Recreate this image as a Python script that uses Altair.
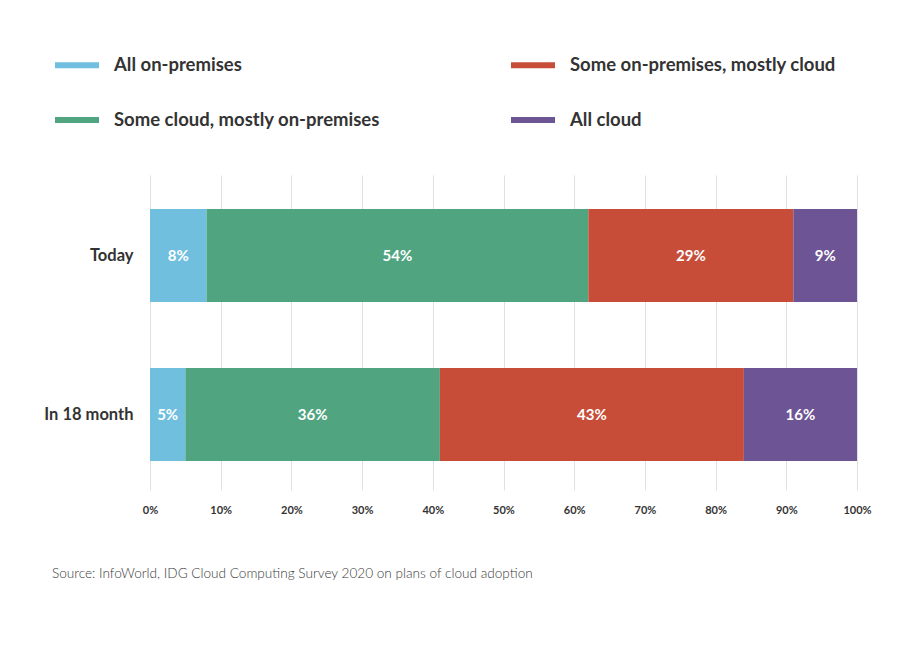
import altair as alt
import pandas as pd

periods = ["Today", "In 18 month"]
categories = [
    "All on-premises",
    "Some cloud, mostly on-premises",
    "Some on-premises, mostly cloud",
    "All cloud",
]
today_values = [8, 54, 29, 9]
month18_values = [5, 36, 43, 16]

legend_order = [
    "All on-premises",
    "Some on-premises, mostly cloud",
    "Some cloud, mostly on-premises",
    "All cloud",
]
legend_colors = ["#70BFDF", "#C74D39", "#50A580", "#6D5494"]
tick_values = [0, 10, 20, 30, 40, 50, 60, 70, 80, 90, 100]

rows = []
for period, vals in zip(periods, [today_values, month18_values]):
    for i, (cat, v) in enumerate(zip(categories, vals)):
        rows.append({"period": period, "category": cat, "value": v, "idx": i})
df = pd.DataFrame(rows)

FONT = "Lato"

base = alt.Chart(df).transform_stack(
    stack="value", groupby=["period"], as_=["v0", "v1"], sort=[alt.SortField("idx")]
).transform_calculate(
    mid="(datum.v0 + datum.v1) / 2",
    label="datum.value + '%'",
)

y_enc = alt.Y(
    "period:N",
    sort=periods,
    title=None,
    scale=alt.Scale(paddingInner=0.415, paddingOuter=0.198, align=0.54),
    axis=alt.Axis(
        ticks=False, domain=False, labelFont=FONT, labelFontSize=16.5,
        labelFontWeight="bold", labelColor="#333333", labelPadding=17,
    ),
)

bars = base.mark_bar().encode(
    x=alt.X(
        "v0:Q",
        scale=alt.Scale(domain=[0, 100], nice=False),
        title=None,
        axis=alt.Axis(
            values=tick_values, labelExpr="datum.value + '%'", ticks=False,
            domain=False, grid=True, gridColor="#e0e0e0", labelFont=FONT,
            labelFontSize=11, labelFontWeight="bold", labelColor="#333333",
            labelPadding=14, labelFlush=False,
        ),
    ),
    x2="v1:Q",
    y=y_enc,
    color=alt.Color(
        "category:N",
        scale=alt.Scale(domain=legend_order, range=legend_colors),
        legend=alt.Legend(
            title=None, orient="none", legendX=-95, legendY=-132,
            direction="horizontal", columns=2,
            symbolType="M-1,-0.14H1V0.14H-1Z", symbolSize=1936,
            symbolStrokeWidth=0, symbolOpacity=1,
            labelFont=FONT, labelFontSize=18.5, labelFontWeight="bold",
            labelColor="#333333", labelOffset=15, labelLimit=400,
            columnPadding=131, rowPadding=23,
        ),
    ),
    order=alt.Order("idx:Q"),
)

labels = base.mark_text(
    color="white", font=FONT, fontSize=15, fontWeight="bold"
).encode(
    x="mid:Q",
    y=alt.Y("period:N", sort=periods),
    text="label:N",
)

chart = (
    (bars + labels)
    .properties(
        width=707,
        height=315,
        padding={"left": 142, "top": 167, "right": 40, "bottom": 140},
        autosize=alt.AutoSizeParams(type="none"),
        title=alt.TitleParams(
            "Source: InfoWorld, IDG Cloud Computing Survey 2020 on plans of cloud adoption",
            orient="bottom", anchor="start", frame="group", dx=-98, offset=52,
            font=FONT, fontSize=13.6, fontWeight=300, color="#3a3a3a",
        ),
    )
    .configure_view(stroke=None)
)

chart.save("out.html", embed_options={"renderer": "svg", "actions": False})
